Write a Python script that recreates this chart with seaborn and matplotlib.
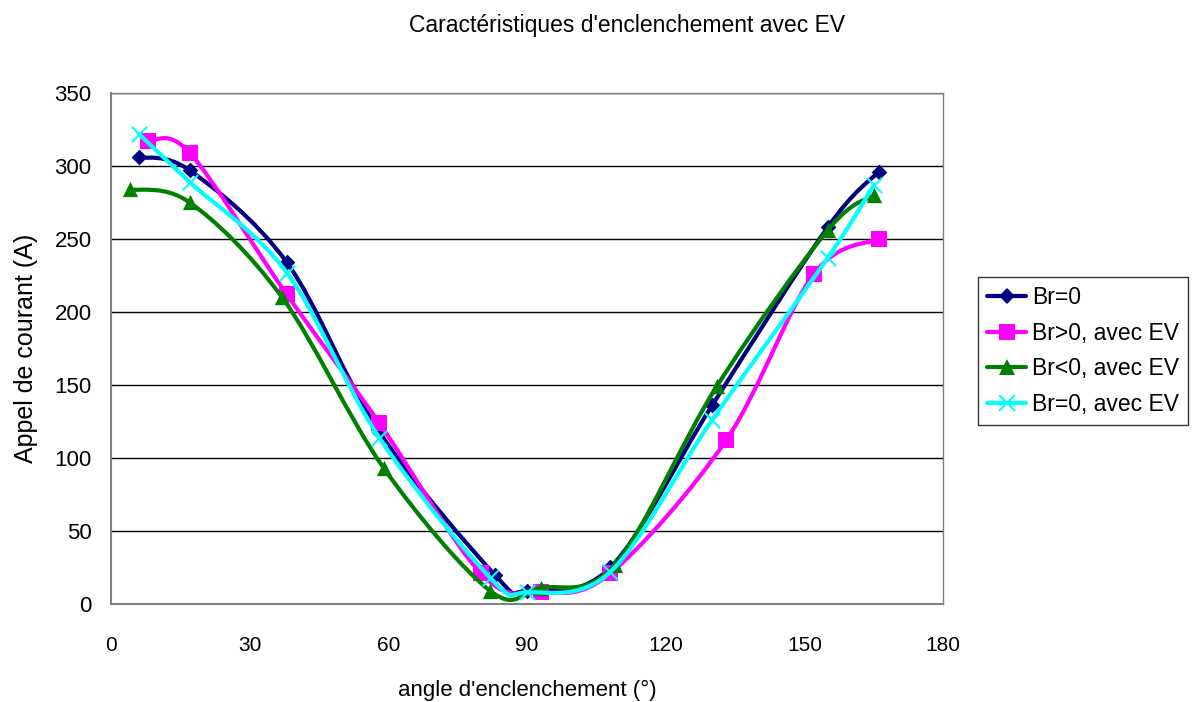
import matplotlib
matplotlib.use("Agg")
import matplotlib.pyplot as plt
import seaborn as sns
import numpy as np
from matplotlib.path import Path
from matplotlib.patches import PathPatch
from matplotlib.lines import Line2D

# values
angles_br0 = [6, 17, 38, 58, 83, 90, 108, 130, 155, 166]
current_br0 = [306, 297, 234, 118, 20, 9, 25, 136, 258, 296]

angles_pos = [8, 17, 38, 58, 80, 93, 108, 133, 152, 166]
current_pos = [317, 309, 212, 124, 21, 8, 21, 112, 226, 250]

angles_neg = [4, 17, 37, 59, 82, 93, 109, 131, 155, 165]
current_neg = [284, 275, 210, 93, 9, 11, 27, 149, 256, 280]

angles_ev = [6, 17, 38, 58, 82, 90, 108, 130, 155, 165]
current_ev = [322, 289, 227, 114, 18, 8, 22, 126, 237, 287]

labels = ["Br=0", "Br>0, avec EV", "Br<0, avec EV", "Br=0, avec EV"]
colors = ["#000080", "#FF00FF", "#008000", "#00FFFF"]
markers = ["D", "s", "^", "x"]
marker_sizes = [8, 11, 11, 11]

sns.set_style("white", {"text.color": "black", "axes.labelcolor": "black",
                        "xtick.color": "black", "ytick.color": "black"})
plt.rcParams["font.family"] = ["Liberation Sans", "DejaVu Sans"]


def smooth_path(xs, ys):
    # Excel-style smoothed line: cubic Bezier segments through the points
    pts = np.column_stack([xs, ys]).astype(float)
    verts = [pts[0]]
    codes = [Path.MOVETO]
    n = len(pts)
    for i in range(n - 1):
        p0 = pts[i - 1] if i > 0 else pts[i]
        p1 = pts[i]
        p2 = pts[i + 1]
        p3 = pts[i + 2] if i + 2 < n else pts[i + 1]
        c1 = p1 + (p2 - p0) / 6
        c2 = p2 - (p3 - p1) / 6
        verts += [c1, c2, p2]
        codes += [Path.CURVE4] * 3
    return Path(verts, codes)


fig = plt.figure(figsize=(11.94, 7.02), dpi=100)
ax = fig.add_axes([0.093, 0.1396, 0.697, 0.728])

series = [
    (angles_br0, current_br0),
    (angles_pos, current_pos),
    (angles_neg, current_neg),
    (angles_ev, current_ev),
]

handles = []
for k, (xs, ys) in enumerate(series):
    patch = PathPatch(smooth_path(xs, ys), facecolor="none", edgecolor=colors[k],
                      lw=3, zorder=3 + k * 2, capstyle="round", joinstyle="round")
    ax.add_patch(patch)
    sns.scatterplot(x=xs, y=ys, ax=ax, marker=markers[k], color=colors[k],
                    s=marker_sizes[k] ** 2, linewidth=1.5 if markers[k] == "x" else 0,
                    edgecolor=colors[k], zorder=4 + k * 2, legend=False)
    handles.append(Line2D([], [], color=colors[k], lw=3, marker=markers[k],
                          markersize=marker_sizes[k], markeredgewidth=1.5 if markers[k] == "x" else 0))

ax.set_xlim(0, 180)
ax.set_ylim(0, 350)
ax.set_xticks(range(0, 181, 30))
ax.set_yticks(range(0, 351, 50))
ax.yaxis.grid(True, color="black", lw=1)
ax.set_axisbelow(True)
for side in ["left", "bottom"]:
    ax.spines[side].set_color("#808080")
    ax.spines[side].set_linewidth(1.5)
for side in ["top", "right"]:
    ax.spines[side].set_color("#808080")
    ax.spines[side].set_linewidth(1)
ax.tick_params(axis="x", direction="out", length=6, width=1, color="#808080",
               labelcolor="black", pad=17, labelsize=15)
ax.tick_params(axis="y", direction="out", length=6, width=1, color="#808080",
               labelcolor="black", pad=8, labelsize=16)

ax.set_xlabel("angle d'enclenchement (°)", fontsize=16, labelpad=18, color="black")
ax.set_ylabel("Appel de courant (A)", fontsize=18, labelpad=12, color="black")
fig.suptitle("Caractéristiques d'enclenchement avec EV", fontsize=16.5, x=0.525, y=0.98,
             color="black")

leg = ax.legend(handles, labels, loc="upper left", bbox_to_anchor=(1.042, 0.64),
                borderaxespad=0, fontsize=16.5, frameon=True, fancybox=False,
                handlelength=1.7, handletextpad=0.25, labelspacing=0.55,
                borderpad=0.4, labelcolor="black")
leg.get_frame().set_edgecolor("black")
leg.get_frame().set_linewidth(1)

fig.savefig("out.png", dpi=100)
